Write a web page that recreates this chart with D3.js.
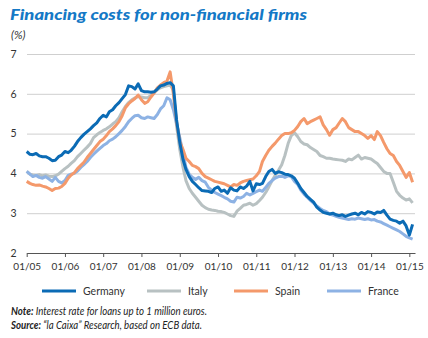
<!DOCTYPE html>
<html><head><meta charset="utf-8">
<script src="https://cdn.jsdelivr.net/npm/d3@7"></script>
<style>
html,body{margin:0;padding:0;background:#fff;}
svg{display:block;}
text{font-family:Lato,"Open Sans",sans-serif;}
</style></head>
<body><svg id="c" width="428" height="338"></svg>
<script>
// ---- data (monthly, Jan 2005 – Feb 2015, %) ----
const startMonth = "2005-01";
const germany = [4.55,4.48,4.47,4.50,4.44,4.42,4.42,4.38,4.32,4.33,4.42,4.46,
 4.55,4.52,4.58,4.68,4.80,4.90,4.98,5.05,5.12,5.20,5.27,5.38,
 5.46,5.42,5.55,5.60,5.70,5.78,5.88,5.98,6.20,6.18,6.12,6.25,
 6.08,6.05,6.05,6.04,6.05,6.12,6.20,6.22,6.26,6.28,6.20,5.35,
 4.78,4.35,4.10,3.92,3.80,3.72,3.64,3.57,3.56,3.55,3.52,3.62,
 3.66,3.55,3.58,3.50,3.64,3.58,3.56,3.66,3.62,3.68,3.80,3.56,
 3.74,3.72,3.75,3.92,4.05,4.10,4.00,4.04,4.02,3.98,3.97,3.94,
 3.88,3.75,3.62,3.52,3.42,3.35,3.28,3.15,3.08,3.02,3.00,2.98,
 3.00,2.96,2.94,2.96,2.92,2.95,2.98,3.00,2.96,3.02,2.98,3.04,
 3.02,2.98,3.03,3.02,3.07,2.95,2.85,2.82,2.80,2.75,2.80,2.68,
 2.45,2.72];
const italy = [4.05,3.98,3.96,3.95,3.97,3.94,3.96,3.93,3.92,3.94,3.98,4.05,
 4.12,4.18,4.25,4.32,4.42,4.50,4.58,4.66,4.75,4.90,4.97,5.03,
 5.08,5.12,5.17,5.24,5.30,5.40,5.55,5.68,5.78,5.85,5.90,5.93,
 5.92,5.90,5.90,5.96,6.03,6.10,6.15,6.18,6.20,6.22,6.10,5.20,
 4.60,4.15,3.82,3.62,3.50,3.40,3.30,3.20,3.14,3.10,3.08,3.07,
 3.05,3.04,3.02,2.98,2.94,2.92,3.05,3.12,3.20,3.22,3.25,3.20,
 3.24,3.32,3.40,3.52,3.66,3.82,3.95,4.08,4.22,4.45,4.75,4.95,
 5.02,4.92,4.80,4.74,4.72,4.65,4.60,4.55,4.45,4.42,4.38,4.38,
 4.36,4.35,4.34,4.33,4.30,4.36,4.34,4.40,4.46,4.36,4.40,4.38,
 4.36,4.30,4.25,4.15,4.05,4.00,4.00,3.78,3.55,3.45,3.38,3.33,
 3.36,3.26];
const spain = [3.80,3.75,3.72,3.70,3.71,3.68,3.66,3.62,3.57,3.62,3.63,3.67,
 3.75,3.88,3.96,4.02,4.12,4.20,4.28,4.40,4.50,4.60,4.70,4.80,
 4.86,4.95,5.05,5.12,5.20,5.30,5.45,5.65,5.75,5.82,5.88,5.97,
 5.85,5.76,5.80,5.92,6.02,6.15,6.22,6.28,6.32,6.55,6.00,5.30,
 4.80,4.60,4.38,4.30,4.20,4.17,4.12,4.00,3.92,3.88,3.84,3.80,
 3.78,3.76,3.74,3.70,3.66,3.72,3.70,3.76,3.80,3.82,3.84,3.86,
 3.94,4.05,4.30,4.45,4.58,4.68,4.76,4.86,4.95,5.00,5.00,5.02,
 5.08,5.18,5.30,5.38,5.25,5.30,5.34,5.38,5.42,5.22,5.10,4.96,
 5.10,5.15,5.26,5.38,5.30,5.15,5.10,5.05,5.05,5.00,4.95,4.88,
 4.95,4.85,5.05,4.95,4.78,4.62,4.50,4.45,4.30,4.20,4.05,3.90,
 4.02,3.78];
const france = [4.05,3.98,3.92,3.95,3.90,3.88,3.92,3.86,3.80,3.90,3.80,3.76,
 3.82,3.95,3.98,4.00,4.06,4.15,4.22,4.30,4.40,4.48,4.56,4.63,
 4.70,4.75,4.82,4.86,4.92,5.00,5.08,5.18,5.30,5.38,5.45,5.46,
 5.40,5.38,5.42,5.40,5.38,5.48,5.62,5.70,5.90,5.85,5.60,5.25,
 4.90,4.50,4.15,3.98,3.90,3.85,3.90,3.82,3.78,3.65,3.58,3.52,
 3.48,3.44,3.40,3.36,3.30,3.28,3.40,3.38,3.42,3.50,3.46,3.50,
 3.54,3.58,3.55,3.65,3.75,3.82,3.88,3.92,3.93,3.90,3.94,3.92,
 3.80,3.72,3.58,3.48,3.40,3.32,3.25,3.18,3.12,3.07,3.04,2.98,
 2.95,2.92,2.90,2.88,2.86,2.84,2.86,2.85,2.88,2.86,2.84,2.86,
 2.83,2.84,2.80,2.78,2.74,2.70,2.66,2.62,2.58,2.54,2.48,2.42,
 2.38,2.35];
const seriesNames = ["Germany","Italy","Spain","France"];
const seriesColors = ["#0b6bb5","#b8c1c2","#f4996b","#8db2e4"];
const yTicks = [2,3,4,5,6,7];
const xTickYears = [2005,2006,2007,2008,2009,2010,2011,2012,2013,2014,2015];

const title = "Financing costs for non-financial firms";
const unitLabel = "(%)";
const noteBold = "Note:", noteText = " Interest rate for loans up to 1 million euros.";
const srcBold = "Source:", srcText = " \u201cla Caixa\u201d Research, based on ECB data.";

// ---- build ----
const svg = d3.select("#c");
const parseM = d3.timeParse("%Y-%m");
const d0 = parseM(startMonth);
const dates = germany.map((_, i) => d3.timeMonth.offset(d0, i));
const allSeries = [germany, italy, spain, france];

const x = d3.scaleTime()
  .domain([new Date(2005,0,1), new Date(2015,1,24)])
  .range([26.7, 415]);
const y = d3.scaleLinear().domain([2,7]).range([253,54]);

// title
svg.append("text").attr("x",10).attr("y",19.5)
  .attr("fill","#1479c6").attr("font-size",15.5).attr("font-weight",900).attr("font-style","italic")
  .attr("textLength",297).attr("lengthAdjust","spacingAndGlyphs")
  .text(title);
svg.append("text").attr("x",11).attr("y",39)
  .attr("fill","#333").attr("font-size",11.5).attr("font-style","italic")
  .text(unitLabel);

// gridlines + y labels
const yAxis = d3.axisLeft(y).tickValues(yTicks).tickSize(-(415-27)).tickFormat(d3.format("d"));
const gy = svg.append("g").attr("transform","translate(27,0)").call(yAxis);
gy.select(".domain").remove();
gy.selectAll(".tick line").attr("stroke","#cfcfcf").attr("stroke-width",1)
  .filter(d => d === 2).remove();
gy.selectAll(".tick text").attr("x",-10.5).attr("fill","#333")
  .attr("font-size",10.5).attr("font-family","Lato, sans-serif");

// x axis
const xAxis = d3.axisBottom(x)
  .tickValues(xTickYears.map(yr => new Date(yr,0,1)))
  .tickSize(4).tickSizeOuter(0)
  .tickFormat(d3.timeFormat("%m/%y"));
const gx = svg.append("g").attr("transform","translate(0,253)").call(xAxis);
gx.select(".domain").attr("stroke","#555").attr("stroke-width",1);
gx.selectAll(".tick line").attr("stroke","#555");
gx.selectAll(".tick text").attr("y",10).attr("fill","#333")
  .attr("font-size",10).attr("font-family","Lato, sans-serif");

// lines
const line = d3.line().x((d,i) => x(dates[i])).y(d => y(d)).curve(d3.curveLinear);
const drawOrder = [1,3,2,0];
svg.append("g").selectAll("path").data(drawOrder).join("path")
  .attr("d", k => line(allSeries[k]))
  .attr("fill","none").attr("stroke", k => seriesColors[k])
  .attr("stroke-width",3).attr("stroke-linejoin","round").attr("stroke-linecap","butt");

// legend
const legX = [42,147,234,327];
const lg = svg.append("g").selectAll("g").data(seriesNames).join("g")
  .attr("transform",(d,i) => `translate(${legX[i]},291)`);
lg.append("line").attr("x1",0).attr("x2",34).attr("y1",0).attr("y2",0)
  .attr("stroke",(d,i) => seriesColors[i]).attr("stroke-width",3);
lg.append("text").attr("x",41).attr("y",3.8).attr("fill","#333")
  .attr("font-size",10.5).text(d => d);

// notes
function fitText(t, target){
  t.attr("textLength", target).attr("lengthAdjust","spacingAndGlyphs");
}
const n1 = svg.append("text").attr("x",11).attr("y",315).attr("fill","#222")
  .attr("font-size",10.5).attr("font-style","italic");
n1.append("tspan").attr("font-weight",700).text(noteBold);
n1.append("tspan").text(noteText);
fitText(n1,196);
const n2 = svg.append("text").attr("x",11).attr("y",329).attr("fill","#222")
  .attr("font-size",10.5).attr("font-style","italic");
n2.append("tspan").attr("font-weight",700).text(srcBold);
n2.append("tspan").text(srcText);
fitText(n2,191);
</script></body></html>
